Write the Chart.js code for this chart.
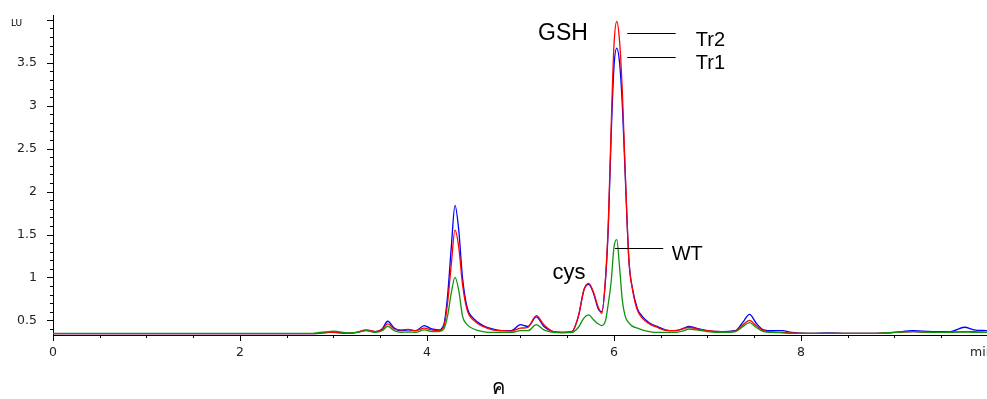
<!DOCTYPE html>
<html>
<head>
<meta charset="utf-8">
<script src="https://cdn.jsdelivr.net/npm/chart.js@4"></script>
<style>
  body { margin: 0; background: #fff; }
</style>
</head>
<body>
<canvas id="chart" width="987" height="399"></canvas>
<script>
// retention time (min)
const times = [
  0, 2.75, 2.85, 2.95, 3.0, 3.05, 3.15, 3.25, 3.35, 3.45, 3.52, 3.58,
  3.65, 3.72, 3.8, 3.88, 3.97, 4.05, 4.12, 4.18, 4.22, 4.26, 4.3, 4.34,
  4.38, 4.43, 4.5, 4.6, 4.7, 4.8, 4.9, 5.0, 5.08, 5.17, 5.25, 5.35,
  5.45, 5.55, 5.62, 5.68, 5.73, 5.78, 5.83, 5.87, 5.91, 5.94, 5.97, 6.0,
  6.03, 6.06, 6.09, 6.12, 6.16, 6.2, 6.25, 6.3, 6.38, 6.46, 6.55, 6.65,
  6.75, 6.8, 6.88, 7.0, 7.15, 7.3, 7.38, 7.45, 7.52, 7.6, 7.7, 7.8,
  7.9, 8.1, 8.3, 8.5, 8.8, 9.0, 9.2, 9.4, 9.6, 9.75, 9.85, 9.99
];

// Tr1 (blue)
const tr1 = [
  .345, .345, .35, .36, .365, .36, .35, .36, .385, .37, .40, .49,
  .41, .38, .39, .38, .44, .40, .39, .45, .78, 1.35, 1.84, 1.55,
  1.0, .65, .52, .44, .40, .38, .38, .45, .43, .54, .43, .37,
  .36, .37, .55, .86, .92, .82, .64, .60, .98, 1.6, 2.65, 3.45,
  3.67, 3.5, 3.0, 2.2, 1.2, .86, .64, .55, .47, .43, .39, .38,
  .41, .43, .41, .38, .37, .38, .48, .57, .47, .39, .38, .38,
  .36, .35, .355, .35, .35, .36, .38, .37, .37, .42, .39, .38
];

// Tr2 (red)
const tr2 = [
  .345, .345, .35, .36, .36, .355, .35, .36, .39, .37, .39, .46,
  .40, .39, .395, .38, .41, .39, .38, .43, .70, 1.15, 1.55, 1.35,
  .92, .62, .50, .43, .39, .38, .375, .41, .42, .555, .45, .37,
  .36, .37, .55, .86, .93, .83, .66, .58, 1.0, 1.65, 2.75, 3.7,
  3.98, 3.75, 3.15, 2.25, 1.2, .85, .62, .53, .46, .42, .385, .38,
  .405, .42, .40, .38, .37, .375, .45, .50, .44, .38, .365, .36,
  .355, .35, .35, .35, .35, .36, .37, .36, .365, .37, .37, .36
];

// WT (green)
const wt = [
  .35, .35, .36, .37, .375, .37, .355, .36, .38, .36, .38, .43,
  .38, .36, .365, .36, .39, .37, .37, .40, .55, .82, 1.0, .85,
  .55, .45, .40, .37, .36, .36, .36, .38, .38, .45, .39, .36,
  .355, .36, .42, .53, .565, .51, .46, .44, .50, .70, .95, 1.35,
  1.44, 1.12, .73, .55, .47, .43, .41, .39, .37, .36, .36, .36,
  .38, .40, .39, .37, .36, .37, .43, .475, .42, .37, .36, .355,
  .35, .35, .35, .35, .35, .36, .37, .36, .36, .365, .36, .36
];

const xTicks = [0, 2, 4, 6, 8];
const yTicks = [0.5, 1, 1.5, 2, 2.5, 3, 3.5];

// peak labels and leader lines, in data units
const notes = [
  { text: "GSH", x: 5.455, y: 3.764, size: 23, align: "center" },
  { text: "Tr2", x: 6.875, y: 3.70, size: 20, align: "left" },
  { text: "Tr1", x: 6.875, y: 3.427, size: 20, align: "left" },
  { text: "WT", x: 6.617, y: 1.198, size: 20, align: "left" },
  { text: "cys", x: 5.519, y: 0.985, size: 22, align: "center" }
];
const leaders = [
  { x1: 6.142, x2: 6.66, y: 3.845 },
  { x1: 6.142, x2: 6.66, y: 3.57 },
  { x1: 6.01, x2: 6.527, y: 1.341 }
];

const pts = arr => arr.map((v, i) => ({ x: times[i], y: v }));
const tickFont = { family: "'DejaVu Sans', sans-serif", size: 12.5 };

const extras = {
  id: "extras",
  afterDraw(chart) {
    const { ctx, chartArea, scales: { x, y } } = chart;
    ctx.save();
    ctx.strokeStyle = "#000";
    ctx.lineWidth = 1;
    ctx.beginPath();
    // y ticks every 0.1, longer at 0.5
    for (let i = 4; i <= 40; i++) {
      const py = Math.round(y.getPixelForValue(i / 10)) + 0.5;
      const len = i % 5 === 0 ? 6 : 3;
      ctx.moveTo(chartArea.left - len, py);
      ctx.lineTo(chartArea.left, py);
    }
    // x ticks every 0.5 min, longer at 2
    for (let i = 0; i <= 19; i++) {
      const px = Math.round(x.getPixelForValue(i / 2)) + 0.5;
      const len = i % 4 === 0 ? 6 : 3;
      ctx.moveTo(px, chartArea.bottom);
      ctx.lineTo(px, chartArea.bottom + len);
    }
    leaders.forEach(l => {
      const py = Math.round(y.getPixelForValue(l.y)) + 0.5;
      ctx.moveTo(x.getPixelForValue(l.x1), py);
      ctx.lineTo(x.getPixelForValue(l.x2), py);
    });
    ctx.stroke();

    ctx.fillStyle = "#000";
    ctx.textBaseline = "alphabetic";
    notes.forEach(n => {
      ctx.font = n.size + "px 'Liberation Sans', Arial, sans-serif";
      ctx.textAlign = n.align;
      ctx.fillText(n.text, x.getPixelForValue(n.x), y.getPixelForValue(n.y));
    });

    ctx.font = "9px 'DejaVu Sans', sans-serif";
    ctx.textAlign = "left";
    ctx.fillText("LU", chartArea.left - 42, y.getPixelForValue(3.93));

    ctx.font = "12.5px 'DejaVu Sans', sans-serif";
    ctx.fillStyle = "#222";
    ctx.fillText("min", chartArea.right - 17, chartArea.bottom + 21);

    ctx.fillStyle = "#000";
    ctx.font = "20px 'Noto Sans', 'DejaVu Sans', sans-serif";
    ctx.textAlign = "center";
    ctx.fillText("ค", x.getPixelForValue(4.76), chartArea.bottom + 59);
    ctx.restore();
  }
};

new Chart(document.getElementById("chart"), {
  type: "line",
  data: {
    datasets: [
      { label: "WT", data: pts(wt), borderColor: "#109410" },
      { label: "Tr2", data: pts(tr2), borderColor: "#ff0000" },
      { label: "Tr1", data: pts(tr1), borderColor: "#0000ff" }
    ]
  },
  options: {
    responsive: false,
    animation: false,
    layout: { padding: { top: 15, right: 0, left: 0, bottom: 0 } },
    elements: {
      line: { borderWidth: 1.3, cubicInterpolationMode: "monotone", fill: false },
      point: { radius: 0 }
    },
    plugins: { legend: { display: false }, tooltip: { enabled: false } },
    scales: {
      x: {
        type: "linear",
        min: 0,
        max: 9.99,
        afterBuildTicks: s => { s.ticks = xTicks.map(v => ({ value: v })); },
        afterFit: s => { s.height = 64; },
        grid: { display: false },
        border: { display: true, color: "#000", width: 1 },
        ticks: {
          padding: 2,
          maxRotation: 0,
          color: "#222",
          font: tickFont,
          callback: v => String(v)
        }
      },
      y: {
        min: 0.33,
        max: 4.05,
        afterBuildTicks: s => { s.ticks = yTicks.map(v => ({ value: v })); },
        afterFit: s => { s.width = 53; },
        grid: { display: false },
        border: { display: true, color: "#000", width: 1 },
        ticks: {
          padding: 8,
          color: "#222",
          font: tickFont,
          callback: v => String(v)
        }
      }
    }
  },
  plugins: [extras]
});
</script>
</body>
</html>
